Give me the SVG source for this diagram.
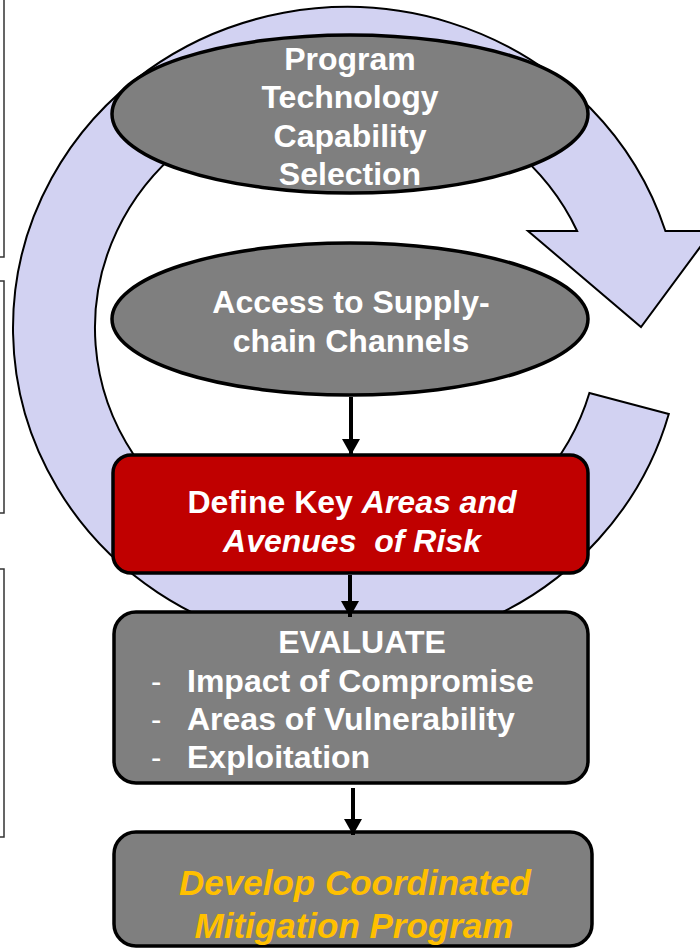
<svg xmlns="http://www.w3.org/2000/svg" width="700" height="949" viewBox="0 0 700 949">
  <style>
    .frame { fill: none; stroke: #333333; stroke-width: 1.5; }
    .band { fill: #D2D2F2; stroke: #000000; stroke-width: 2; stroke-linejoin: miter; }
    .oval { fill: #7F7F7F; stroke: #000000; stroke-width: 3.5; }
    .box { fill: #7F7F7F; stroke: #000000; stroke-width: 3.5; }
    .box-red { fill: #C00000; stroke: #000000; stroke-width: 3.5; }
    .lbl { font-family: "Liberation Sans", Arial, sans-serif; font-weight: bold; font-size: 32px; fill: #FFFFFF; text-anchor: middle; }
    .item { font-family: "Liberation Sans", Arial, sans-serif; font-weight: bold; font-size: 32px; fill: #FFFFFF; }
    .dash { font-family: "Liberation Sans", Arial, sans-serif; font-size: 31px; fill: #FFFFFF; }
    .gold { font-family: "Liberation Sans", Arial, sans-serif; font-weight: bold; font-style: italic; font-size: 35px; fill: #FFC000; text-anchor: middle; }
    .flow { stroke: #000000; stroke-width: 4; fill: none; }
  </style>
  <defs>
    <marker id="head" markerUnits="userSpaceOnUse" markerWidth="20" markerHeight="20" viewBox="0 0 20 20" refX="16" refY="10" orient="auto">
      <path d="M0,1 L16,10 L0,19 Z" fill="#000000"/>
    </marker>
  </defs>

  <!-- side frames cut by the left edge -->
  <g id="side-frames">
    <rect class="frame" x="-20" y="-20" width="24" height="277"/>
    <rect class="frame" x="-20" y="281" width="24" height="232"/>
    <rect class="frame" x="-20" y="569" width="24" height="268"/>
  </g>

  <!-- clockwise circular arrow behind the flow -->
  <g id="cycle-arrow">
    <path class="band" d="M 668.8,414 A 334 321 0 1 1 665.4,231 L 712,231 L 641,327 L 528,231 L 577.1,231 A 252 238 0 1 0 589.4,393 Z"/>
  </g>

  <g id="node-selection">
    <ellipse class="oval" cx="350" cy="114" rx="238" ry="79"/>
    <text class="lbl" x="350" y="70">Program</text>
    <text class="lbl" x="350" y="108">Technology</text>
    <text class="lbl" x="350" y="147">Capability</text>
    <text class="lbl" x="350" y="185">Selection</text>
  </g>

  <g id="node-access">
    <ellipse class="oval" cx="350" cy="319" rx="238" ry="76"/>
    <text class="lbl" x="351" y="313">Access to Supply-</text>
    <text class="lbl" x="351" y="352">chain Channels</text>
  </g>

  <g id="node-define">
    <rect class="box-red" x="113" y="455" width="475" height="118" rx="18" ry="18"/>
    <text class="lbl" x="352" y="513">Define Key <tspan font-style="italic">Areas and</tspan></text>
    <text class="lbl" x="352" y="552" font-style="italic" xml:space="preserve">Avenues  of Risk</text>
  </g>

  <g id="node-evaluate">
    <rect class="box" x="114" y="612" width="474" height="171" rx="22" ry="22"/>
    <text class="lbl" x="362" y="653">EVALUATE</text>
    <text class="dash" x="151" y="692">-</text>
    <text class="item" x="187" y="692">Impact of Compromise</text>
    <text class="dash" x="151" y="730">-</text>
    <text class="item" x="187" y="730">Areas of Vulnerability</text>
    <text class="dash" x="151" y="768">-</text>
    <text class="item" x="187" y="768">Exploitation</text>
  </g>

  <g id="node-mitigation">
    <rect class="box" x="114" y="832" width="478" height="114" rx="22" ry="22"/>
    <text class="gold" x="355" y="895">Develop Coordinated</text>
    <text class="gold" x="354" y="938">Mitigation Program</text>
  </g>

  <g id="connectors">
    <line class="flow" x1="351" y1="397" x2="351" y2="455" marker-end="url(#head)"/>
    <line class="flow" x1="350" y1="575" x2="350" y2="617" marker-end="url(#head)"/>
    <line class="flow" x1="353" y1="788" x2="353" y2="835" marker-end="url(#head)"/>
  </g>
</svg>
